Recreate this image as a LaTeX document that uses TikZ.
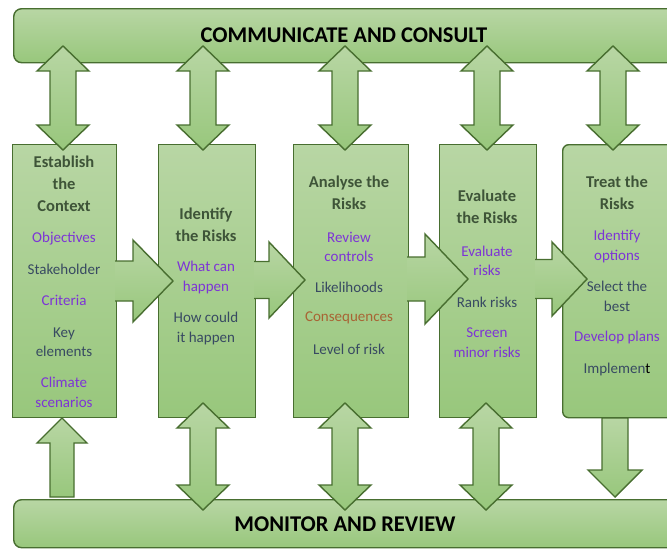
\documentclass[tikz,border=0pt]{standalone}
\usepackage{fontspec}
\setmainfont{Carlito}

\definecolor{boxtop}{RGB}{184,214,164}
\definecolor{boxbot}{RGB}{152,199,124}
\definecolor{boxedge}{RGB}{72,110,48}
\definecolor{headtxt}{RGB}{62,84,56}
\definecolor{itempurple}{RGB}{125,52,214}
\definecolor{itemslate}{RGB}{56,74,98}
\definecolor{itembrown}{RGB}{168,100,52}

\tikzset{
  greenbox/.style={draw=boxedge, line width=1.4pt, line join=miter, top color=boxtop, bottom color=boxbot},
  bar/.style={greenbox, rectangle, rounded corners=8pt, inner sep=0pt, anchor=north west},
  stage/.style={greenbox, rectangle, inner sep=0pt, anchor=north west},
  bartext/.style={font=\fontsize{22.5}{24}\selectfont\bfseries, text=black},
  heading/.style={font=\fontsize{16.5}{22}\selectfont\bfseries, text=headtxt, align=center},
  item/.style={font=\fontsize{15}{19.5}\selectfont, align=center, text=itemslate},
  todo/.style={item, text=itempurple},
}

% double block arrow: x, top tip, bottom tip
\newcommand{\updown}[3]{%
  \path[greenbox] (#1,#2) -- (#1+26,#2+25) -- (#1+13,#2+25) -- (#1+13,#3-25)
    -- (#1+26,#3-25) -- (#1,#3) -- (#1-26,#3-25) -- (#1-13,#3-25)
    -- (#1-13,#2+25) -- (#1-26,#2+25) -- cycle;}
% block arrow to the right: shaft start, head start, tip, middle, shaft half, head half
\newcommand{\rightblock}[6]{%
  \path[greenbox] (#1,#4-#5) -- (#2,#4-#5) -- (#2,#4-#6) -- (#3,#4)
    -- (#2,#4+#6) -- (#2,#4+#5) -- (#1,#4+#5);}

\begin{document}
\begin{tikzpicture}[x=1pt, y=-1pt]
  \useasboundingbox (0,0) rectangle (667,549);
  \clip (0,0) rectangle (667,549);

  % bars
  \node[bar, minimum width=680pt, minimum height=54pt] (comm) at (13,8) {};
  \node[bar, minimum width=680pt, minimum height=48pt] (monitor) at (13,499) {};

  % stages
  \node[stage, minimum width=104pt, minimum height=273pt] (ctx) at (12,144) {};
  \node[stage, minimum width=97pt, minimum height=273pt] (ident) at (158,144) {};
  \node[stage, minimum width=115pt, minimum height=273pt] (analyse) at (293,144) {};
  \node[stage, minimum width=97pt, minimum height=273pt] (evaluate) at (439,144) {};
  \node[stage, minimum width=110pt, minimum height=273pt, rounded corners=6pt] (treat) at (562,144) {};

  % consult arrows
  \updown{63}{46}{150}
  \updown{203}{46}{150}
  \updown{345}{46}{150}
  \updown{487}{46}{150}
  \updown{613}{46}{150}

  % monitor arrows
  \updown{203}{403}{510}
  \updown{345}{403}{510}
  \updown{486}{403}{510}
  \path[greenbox] (62,418) -- (87,443) -- (74,443) -- (74,497) -- (50,497)
    -- (50,443) -- (37,443) -- cycle;
  \path[greenbox] (602,418) -- (628,418) -- (628,470) -- (642,470) -- (615,497)
    -- (588,470) -- (602,470) -- cycle;

  % flow between stages
  \rightblock{115}{133}{173}{281}{20}{41}
  \rightblock{254}{269}{305}{280}{18.5}{38}
  \rightblock{407}{425}{468}{279}{22}{45}
  \rightblock{535}{552}{587}{279}{19.5}{37}

  \node[bartext] (comm-t) at (344,35) {COMMUNICATE AND CONSULT};
  \node[bartext] (monitor-t) at (345,524) {MONITOR AND REVIEW};

  \node[heading] (ctx-h) at (64,184) {Establish\\the\\Context};
  \node[todo] (ctx-1) at (64,239) {Objectives};
  \node[item] (ctx-2) at (64,269.5) {Stakeholder};
  \node[todo] (ctx-3) at (64,300.5) {Criteria};
  \node[item] (ctx-4) at (64,342) {Key\\elements};
  \node[todo] (ctx-5) at (64,392.5) {Climate\\scenarios};

  \node[heading] (ident-h) at (206,224.5) {Identify\\the Risks};
  \node[todo] (ident-1) at (206,277.5) {What can\\happen};
  \node[item] (ident-2) at (206,328.5) {How could\\it happen};

  \node[heading] (analyse-h) at (349,193) {Analyse the\\Risks};
  \node[todo] (analyse-1) at (349,247) {Review\\controls};
  \node[item] (analyse-2) at (349,287) {Likelihoods};
  \node[item, text=itembrown] (analyse-3) at (349,318) {Consequences};
  \node[item] (analyse-4) at (349,349) {Level of risk};

  \node[heading] (evaluate-h) at (487,207) {Evaluate\\the Risks};
  \node[todo] (evaluate-1) at (487,261) {Evaluate\\risks};
  \node[item] (evaluate-2) at (487,302) {Rank risks};
  \node[todo] (evaluate-3) at (487,342.5) {Screen\\minor risks};

  \node[heading] (treat-h) at (617,192.5) {Treat the\\Risks};
  \node[todo] (treat-1) at (617,246.5) {Identify\\options};
  \node[item] (treat-2) at (617,296.5) {Select the\\best};
  \node[todo] (treat-3) at (617,337.5) {Develop plans};
  \node[item] (treat-4) at (617,369) {Implemen\textcolor{black}{t}};
\end{tikzpicture}
\end{document}
